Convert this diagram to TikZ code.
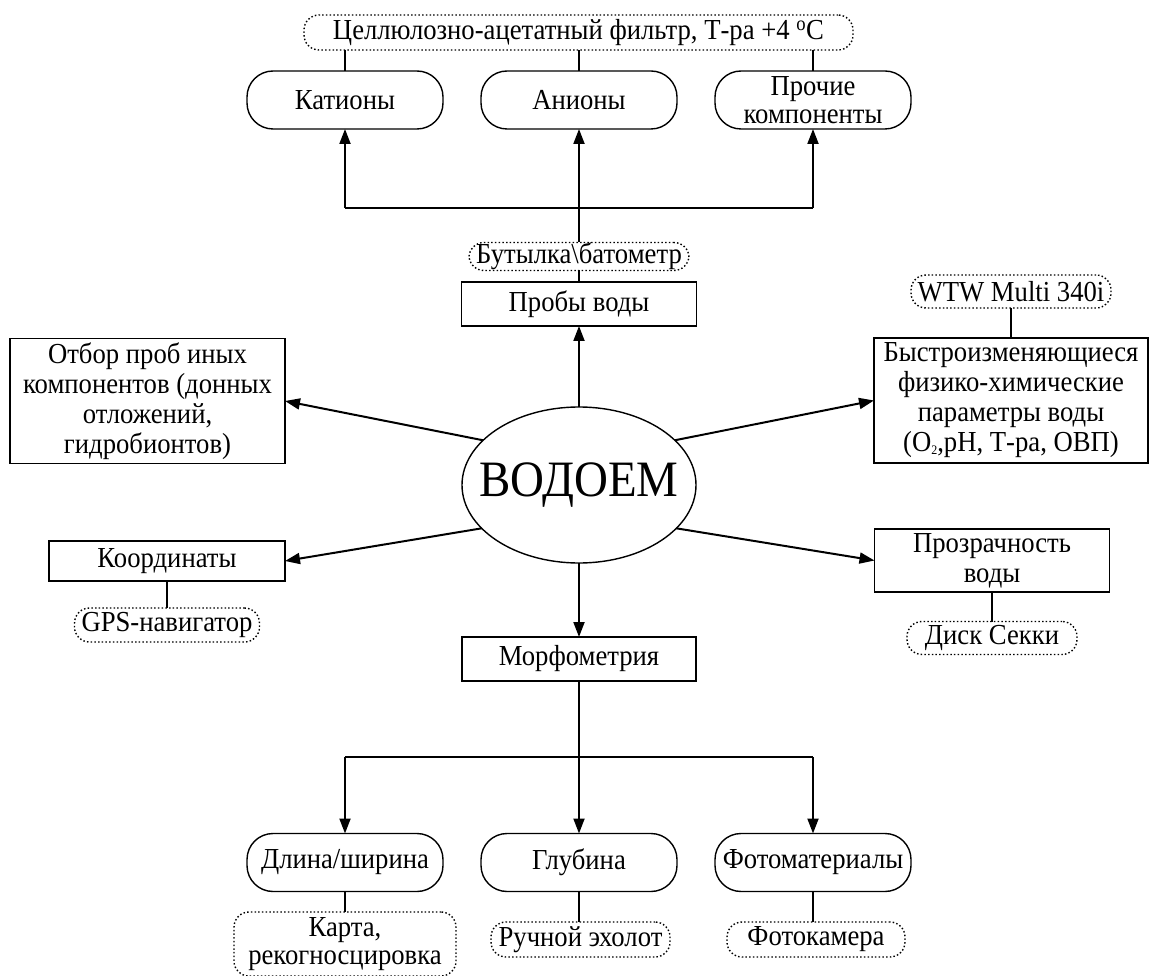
\documentclass[tikz,border=0pt]{standalone}
\usepackage{fontspec}
\setmainfont{Liberation Serif}[FakeStretch=0.92]
\usetikzlibrary{arrows.meta,shapes.geometric}
\begin{document}
\begin{tikzpicture}[x=1pt,y=-1pt,
  every node/.style={font=\fontsize{29}{30}\selectfont, align=center, inner sep=0pt, outer sep=0pt},
  box/.style={draw, line width=1.4pt, rectangle},
  pill/.style={draw, line width=1.4pt, rounded corners=26pt, minimum width=196pt, minimum height=58pt},
  tool/.style={draw, line width=1.4pt, dash pattern=on 1.5pt off 2.2pt, rounded corners=15pt},
  link/.style={line width=2pt},
  arr/.style={line width=2pt, -{Triangle[length=15pt,width=11pt]}},
]
\useasboundingbox (0,0) rectangle (1152,976);

% top part
\node[tool, minimum width=549pt, minimum height=35pt] (filt) at (578.5,32.5) {Целлюлозно-ацетатный фильтр, Т-ра +4 \textsuperscript{o}C};
\node[pill] (kat) at (345,100) {Катионы};
\node[pill] (an) at (579,100) {Анионы};
\node[pill, font=\fontsize{29}{28}\selectfont] (pr) at (813,100) {Прочие\\компоненты};
\draw[link] (kat.north) -- (kat.north |- filt.south);
\draw[link] (an.north) -- (an.north |- filt.south);
\draw[link] (pr.north) -- (pr.north |- filt.south);

\coordinate (jt) at (579,208);
\coordinate (jtl) at (345,208);
\coordinate (jtr) at (813,208);
\draw[link] (jtl) -- (jtr);
\draw[arr] (jtl) -- (kat.south);
\draw[arr] (jt) -- (an.south);
\draw[arr] (jtr) -- (pr.south);

\node[tool, minimum width=220pt, minimum height=28pt] (bot) at (579,256.5) {Бутылка\textbackslash батометр};
\draw[link] (bot.north) -- (jt);
\node[box, minimum width=235pt, minimum height=44pt] (prob) at (579,304) {Пробы воды};
\draw[link] (prob.north) -- (bot.south);

% centre
\node[ellipse, draw, line width=1.4pt, minimum width=234pt, minimum height=156pt,
  label={[font=\fontsize{51}{54}\selectfont]center:ВОДОЕМ}] (e) at (579,485) {};
\draw[arr] (e.north) -- (prob.south);

% left side
\node[box, minimum width=275pt, minimum height=125pt] (otb) at (147.5,401) {Отбор проб иных\\компонентов (донных\\отложений,\\гидробионтов)};
\draw[arr] (e.155) -- (otb.east);
\node[box, minimum width=236pt, minimum height=40pt] (koo) at (167,561) {Координаты};
\draw[arr] (e.204) -- (koo.east);
\node[tool, minimum width=185pt, minimum height=34pt] (gps) at (167,625) {GPS-навигатор};
\draw[link] (koo.south) -- (gps.north);

% right side
\node[tool, minimum width=200pt, minimum height=33pt] (wtw) at (1011,291.5) {WTW Multi 340i};
\node[box, minimum width=274pt, minimum height=125pt] (bys) at (1011,400.5) {Быстроизменяющиеся\\физико-химические\\параметры воды\\(O\raisebox{-3pt}{\fontsize{13}{13}\selectfont 2},pH, Т-ра, ОВП)};
\draw[link] (wtw.south) -- (bys.north);
\draw[arr] (e.25.6) -- (bys.west);
\node[box, minimum width=235pt, minimum height=63pt] (proz) at (992,560.5) {Прозрачность\\воды};
\draw[arr] (e.336) -- (proz.west);
\node[tool, minimum width=170pt, minimum height=33pt] (sek) at (992,638) {Диск Секки};
\draw[link] (proz.south) -- (sek.north);

% bottom part
\node[box, minimum width=234pt, minimum height=44pt] (mor) at (579,659) {Морфометрия};
\draw[arr] (e.south) -- (mor.north);
\coordinate (jb) at (579,757);
\coordinate (jbl) at (345,757);
\coordinate (jbr) at (813,757);
\draw[link] (mor.south) -- (jb);
\draw[link] (jbl) -- (jbr);
\node[pill] (dl) at (345,862.5) {Длина/ширина};
\node[pill] (gl) at (579,862.5) {Глубина};
\node[pill] (fm) at (813,862.5) {Фотоматериалы};
\draw[arr] (jbl) -- (dl.north);
\draw[arr] (jb) -- (gl.north);
\draw[arr] (jbr) -- (fm.north);

\node[tool, minimum width=222pt, minimum height=64pt, font=\fontsize{29}{28}\selectfont] (kar) at (345,944) {Карта,\\рекогносцировка};
\node[tool, minimum width=179pt, minimum height=35pt] (ech) at (580.5,939.5) {Ручной эхолот};
\node[tool, minimum width=178pt, minimum height=35pt] (fk) at (816,939.5) {Фотокамера};
\draw[link] (dl.south) -- (dl.south |- kar.north);
\draw[link] (gl.south) -- (gl.south |- ech.north);
\draw[link] (fm.south) -- (fm.south |- fk.north);
\end{tikzpicture}
\end{document}
